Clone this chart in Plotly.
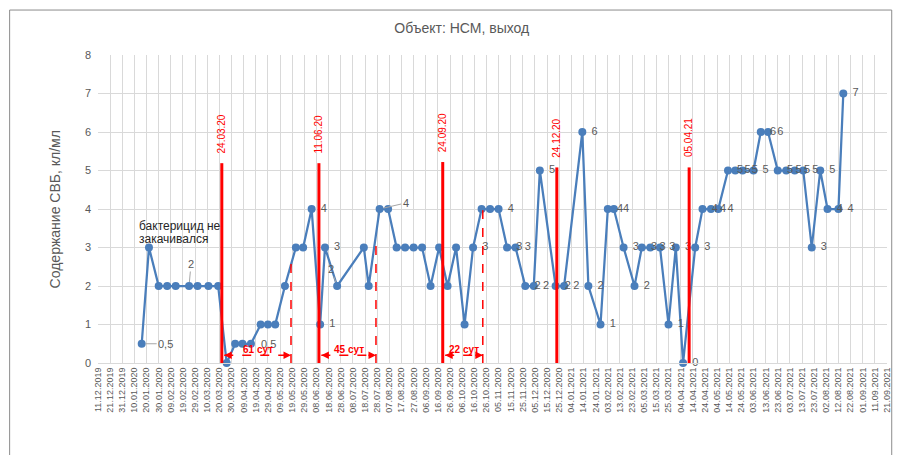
import plotly.graph_objects as go
import pandas as pd

# ---------------- data ----------------
dates = [
    "2020-01-16", "2020-01-22", "2020-01-30", "2020-02-06", "2020-02-13", "2020-02-24",
    "2020-03-02", "2020-03-11", "2020-03-19", "2020-03-26", "2020-04-02", "2020-04-08",
    "2020-04-15", "2020-04-23", "2020-04-29", "2020-05-05", "2020-05-13", "2020-05-22",
    "2020-05-28", "2020-06-04", "2020-06-11", "2020-06-15", "2020-06-25", "2020-07-17",
    "2020-07-21", "2020-07-30", "2020-08-06", "2020-08-13", "2020-08-20", "2020-08-27",
    "2020-09-03", "2020-09-10", "2020-09-17", "2020-09-24", "2020-10-01", "2020-10-08",
    "2020-10-15", "2020-10-22", "2020-10-29", "2020-11-05", "2020-11-12", "2020-11-19",
    "2020-11-27", "2020-12-04", "2020-12-09", "2020-12-22", "2020-12-29", "2021-01-13",
    "2021-01-18", "2021-01-28", "2021-02-03", "2021-02-08", "2021-02-16", "2021-02-25",
    "2021-03-03", "2021-03-10", "2021-03-18", "2021-03-25", "2021-03-31", "2021-04-06",
    "2021-04-16", "2021-04-22", "2021-04-29", "2021-05-05", "2021-05-13", "2021-05-19",
    "2021-05-25", "2021-06-03", "2021-06-09", "2021-06-15", "2021-06-23", "2021-06-30",
    "2021-07-07", "2021-07-14", "2021-07-21", "2021-07-28", "2021-08-03", "2021-08-12",
    "2021-08-16",
]
values = [
    0.5, 3, 2, 2, 2, 2,
    2, 2, 2, 0, 0.5, 0.5,
    0.5, 1, 1, 1, 2, 3,
    3, 4, 1, 3, 2, 3,
    2, 4, 4, 3, 3, 3,
    3, 2, 3, 2, 3, 1,
    3, 4, 4, 4, 3, 3,
    2, 2, 5, 2, 2, 6,
    2, 1, 4, 4, 3, 2,
    3, 3, 3, 1, 3, 0,
    3, 4, 4, 4, 5, 5,
    5, 5, 6, 6, 5, 5,
    5, 5, 3, 5, 4, 4,
    7,
]
point_labels = [
    "", "", "", "", "", "",
    "", "", "", "", "", "",
    "", "", "", "", "", "",
    "", "4", "1", "3", "", "",
    "", "", "", "", "", "",
    "", "", "", "", "", "",
    "3", "", "", "4", "3", "3",
    "2", "2", "5", "2", "2", "6",
    "2", "1", "4", "4", "3", "2",
    "3", "3", "3", "1", "3", "0",
    "3", "4", "4", "4", "5", "5",
    "5", "5", "6", "6", "5", "5",
    "5", "5", "3", "5", "4", "4",
    "7",
]
# labels moved away from their points (index, text, dx px, dy px, leader line)
moved_labels = [
    (0, "0,5", 24, 0, True),
    (5, "2", 2, -22, True),
    (12, "0,5", 18, 0, False),
    (22, "2", -6, -17, True),
    (25, "4", 26, -6, True),
]

event_dates = ["2020-03-22", "2020-06-10", "2020-09-20", "2020-12-23", "2021-04-11"]
event_labels = ["24.03.20", "11.06.20", "24.09.20", "24.12.20", "05.04.21"]
event_tops = [5.19, 5.19, 5.22, 5.08, 5.08]

period_starts = ["2020-03-24", "2020-06-12", "2020-09-22"]
period_ends = ["2020-05-18", "2020-07-27", "2020-10-23"]
period_end_tops = [2.67, 3.1, 3.97]
period_labels = ["61 сут", "45 сут", "22 сут"]
period_level = 0.2

note_lines = ["бактерицид не", "закачивался"]
note_date = "2020-01-12"
note_ys = [3.56, 3.21]

title_text = "Объект: НСМ, выход"
y_title = "Содержание СВБ, кл/мл"

tick_dates = pd.date_range("2019-12-11", "2021-09-21", freq="10D")
tick_text = [d.strftime("%d.%m.%Y") for d in tick_dates]

# ---------------- figure ----------------
FONT = "Liberation Sans"
GREY = "#595959"
BLUE = "#4a7ebb"
RED = "#ff0000"

fig = go.Figure()
fig.add_trace(go.Scatter(
    x=dates, y=values, mode="lines+markers",
    line=dict(color=BLUE, width=2.25),
    marker=dict(color=BLUE, size=8),
    cliponaxis=False, showlegend=False, hoverinfo="x+y",
))
# data labels (invisible larger markers push the text a bit further right)
fig.add_trace(go.Scatter(
    x=dates, y=values, mode="markers+text",
    text=point_labels, textposition="middle right",
    textfont=dict(family=FONT, size=11, color=GREY),
    marker=dict(color=BLUE, size=13, opacity=0),
    cliponaxis=False, showlegend=False, hoverinfo="skip",
))

shapes = []
annotations = []

for i, txt, dx, dy, leader in moved_labels:
    if leader:
        annotations.append(dict(
            x=dates[i], y=values[i], xref="x", yref="y", text=txt,
            showarrow=True, arrowhead=0, arrowwidth=1, arrowcolor="#a6a6a6",
            ax=dx, ay=dy, standoff=4,
            font=dict(family=FONT, size=11, color=GREY),
        ))
    else:
        annotations.append(dict(
            x=dates[i], y=values[i], xref="x", yref="y", text=txt,
            showarrow=False, xshift=dx, yshift=-dy,
            font=dict(family=FONT, size=11, color=GREY),
        ))

for d, lab, top in zip(event_dates, event_labels, event_tops):
    shapes.append(dict(type="line", xref="x", yref="y", x0=d, x1=d, y0=0, y1=top,
                       line=dict(color=RED, width=3)))
    annotations.append(dict(x=d, y=top, xref="x", yref="y", text=lab, textangle=-90,
                            showarrow=False, yanchor="bottom", xanchor="center", yshift=8,
                            font=dict(family=FONT, size=10, color=RED)))

for s, e, top, lab in zip(period_starts, period_ends, period_end_tops, period_labels):
    shapes.append(dict(type="line", xref="x", yref="y", x0=s, x1=e, y0=period_level, y1=period_level,
                       line=dict(color=RED, width=1.5, dash="dash")))
    shapes.append(dict(type="line", xref="x", yref="y", x0=e, x1=e, y0=0, y1=top,
                       line=dict(color=RED, width=1.5, dash="dash")))
    annotations.append(dict(x=s, y=period_level, xref="x", yref="y", text="", showarrow=True,
                            arrowhead=2, arrowsize=1, arrowwidth=1.5, arrowcolor=RED, ax=9, ay=0))
    annotations.append(dict(x=e, y=period_level, xref="x", yref="y", text="", showarrow=True,
                            arrowhead=2, arrowsize=1, arrowwidth=1.5, arrowcolor=RED, ax=-9, ay=0))
    mid = pd.Timestamp(s) + (pd.Timestamp(e) - pd.Timestamp(s)) / 2
    annotations.append(dict(x=mid, y=period_level, xref="x", yref="y", text="<b>" + lab + "</b>",
                            showarrow=False, yanchor="bottom", yshift=-2,
                            font=dict(family=FONT, size=10, color=RED)))

for line_txt, ny in zip(note_lines, note_ys):
    annotations.append(dict(x=note_date, y=ny, xref="x", yref="y", text=line_txt, align="left",
                            showarrow=False, xanchor="left", yanchor="middle",
                            font=dict(family=FONT, size=12, color="#262626")))

annotations.append(dict(x=-0.054, y=0.5, xref="paper", yref="paper", text=y_title, textangle=-90,
                        showarrow=False, xanchor="center", yanchor="middle",
                        font=dict(family=FONT, size=14, color=GREY)))

# outer chart frame (left, top, right)
FRAME = dict(color="#8c8c8c", width=1)
shapes.append(dict(type="line", xref="paper", yref="paper", x0=-0.112, x1=-0.112, y0=-0.4, y1=1.146, line=FRAME))
shapes.append(dict(type="line", xref="paper", yref="paper", x0=-0.112, x1=1.006, y0=1.146, y1=1.146, line=FRAME))
shapes.append(dict(type="line", xref="paper", yref="paper", x0=1.006, x1=1.006, y0=-0.4, y1=1.146, line=FRAME))

fig.update_layout(
    width=895, height=447,
    margin=dict(l=90, r=11, t=47, b=92),
    paper_bgcolor="white", plot_bgcolor="white",
    title=dict(text=title_text, x=0.507, xref="container", xanchor="center",
               y=0.955, yref="container", yanchor="middle",
               font=dict(family=FONT, size=14, color=GREY)),
    shapes=shapes, annotations=annotations,
    font=dict(family=FONT, color=GREY),
)
fig.update_xaxes(
    type="date", range=["2019-12-11", "2021-09-21"],
    tickmode="array", tickvals=tick_dates, ticktext=tick_text, tickangle=-90,
    tickfont=dict(family=FONT, size=9, color=GREY),
    showgrid=True, gridcolor="#d9d9d9", gridwidth=1,
    showline=True, linecolor="#d9d9d9", linewidth=1, ticks="", zeroline=False,
)
fig.update_yaxes(
    range=[0, 8], dtick=1, tickfont=dict(family=FONT, size=11, color=GREY),
    showgrid=True, gridcolor="#d9d9d9", gridwidth=1, zeroline=False, showline=False,
    ticks="", ticklabelstandoff=6,
)

fig.write_html("out.html")
